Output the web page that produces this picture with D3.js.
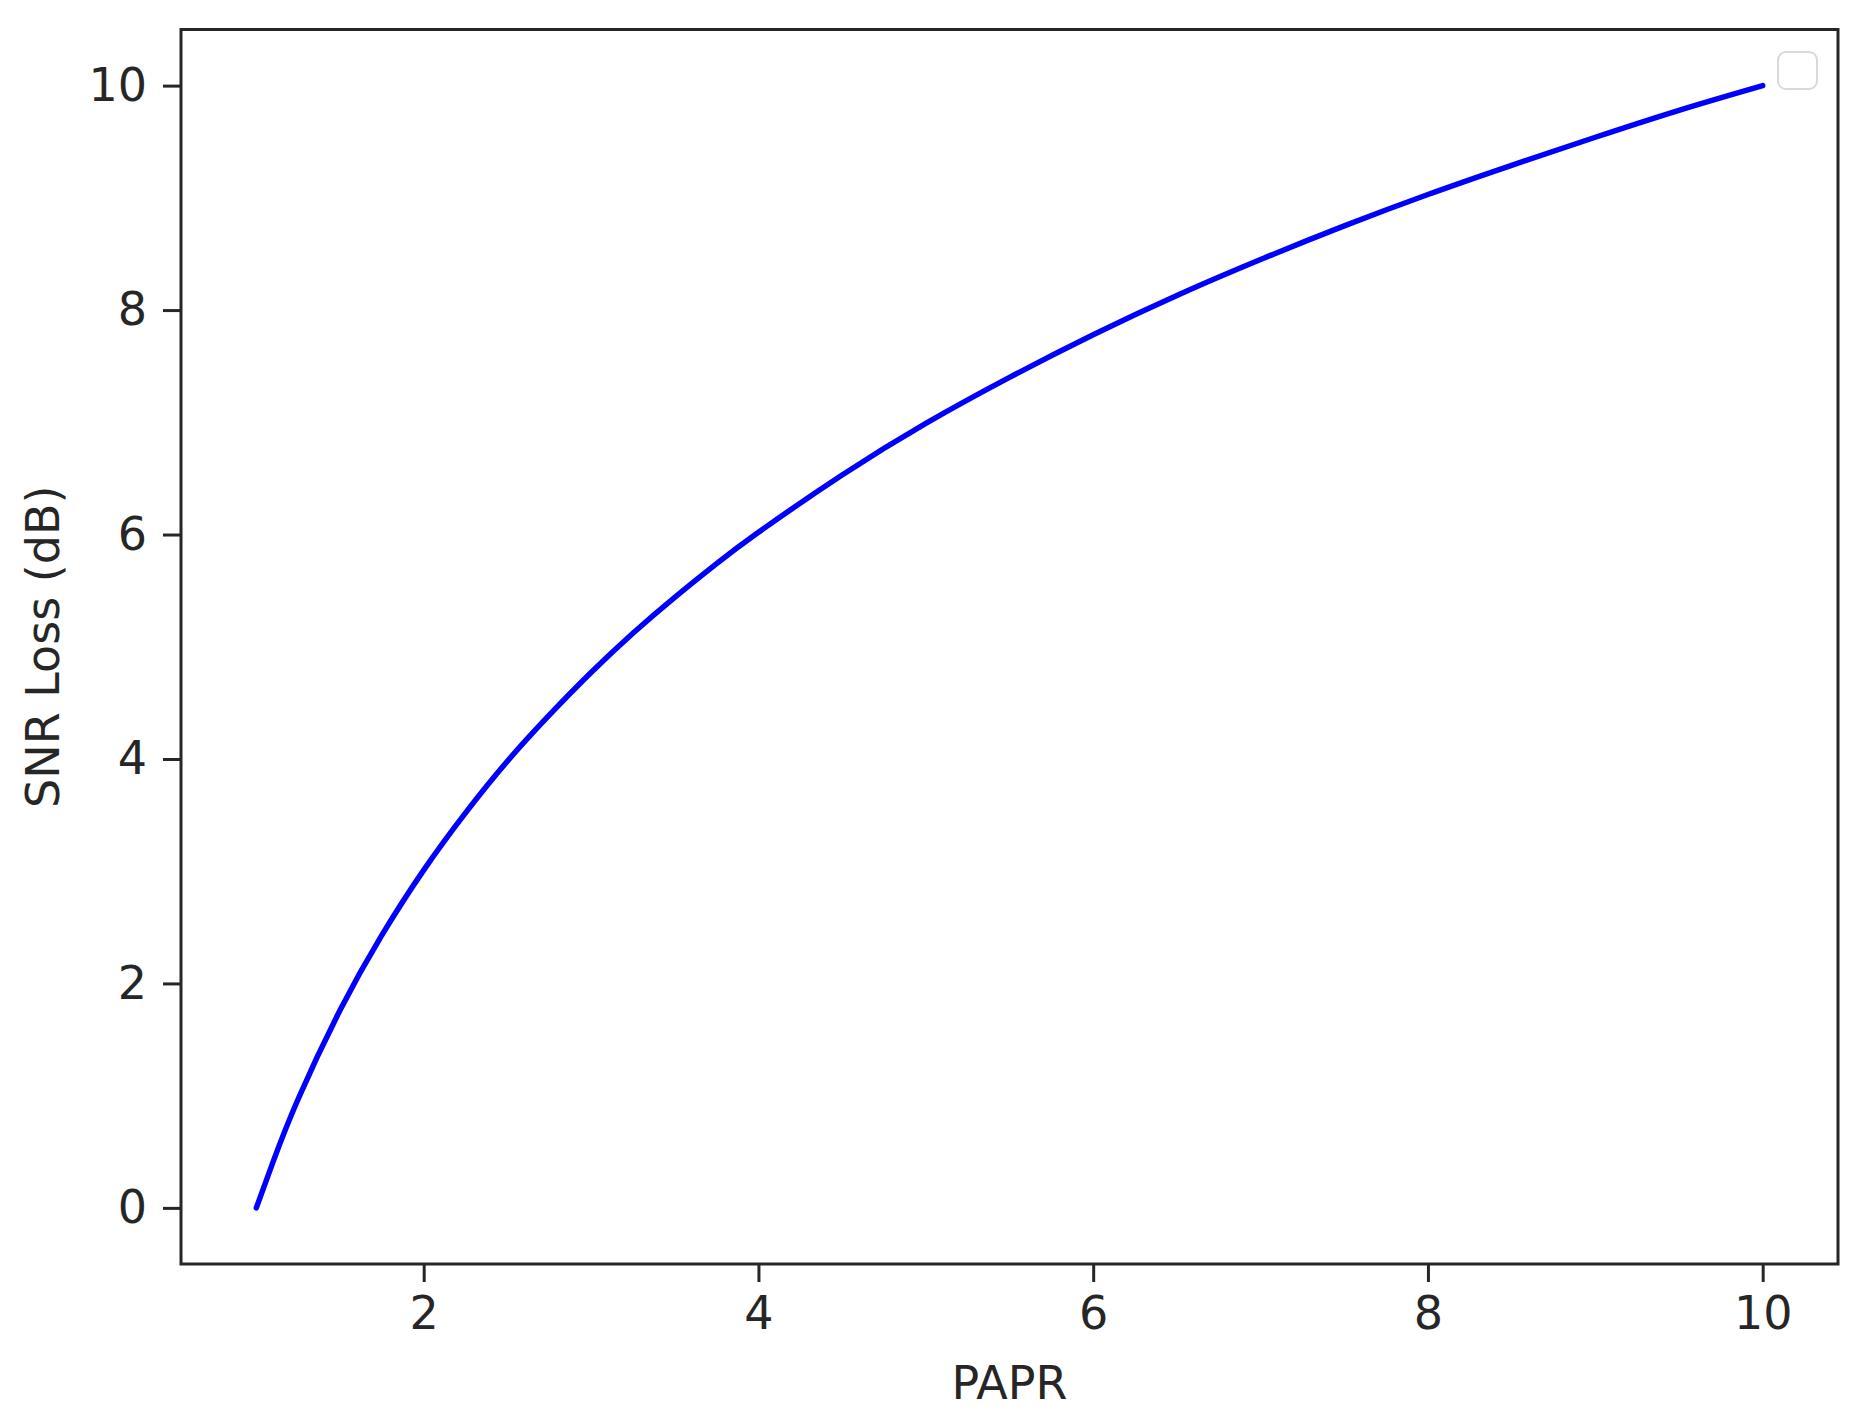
<!DOCTYPE html>
<html>
<head>
<meta charset="utf-8">
<script src="https://cdn.jsdelivr.net/npm/d3@7"></script>
<style>
  html, body { margin: 0; padding: 0; background: #fff; }
  svg { display: block; }
  text { font-family: "DejaVu Sans", sans-serif; fill: #262626; }
</style>
</head>
<body>
<script>
// Data
const paprValues = [1, 1.1, 1.25, 1.5, 1.75, 2, 2.25, 2.5, 2.75, 3, 3.25, 3.5, 3.75, 4, 4.5, 5, 5.5, 6, 6.5, 7, 7.5, 8, 8.5, 9, 9.5, 10];
const snrLossValues = [0, 0.41, 0.97, 1.76, 2.43, 3.01, 3.52, 3.98, 4.39, 4.77, 5.12, 5.44, 5.74, 6.02, 6.53, 6.99, 7.40, 7.78, 8.13, 8.45, 8.75, 9.03, 9.29, 9.54, 9.78, 10.0];
const xTicks = [2, 4, 6, 8, 10];
const yTicks = [0, 2, 4, 6, 8, 10];
const xLabel = "PAPR";
const yLabel = "SNR Loss (dB)";

(function () {
const W = 1866, H = 1421;
const mLeft = 181, mRight = 1838, mTop = 29.5, mBottom = 1264;

const svg = d3.select("body").append("svg").attr("width", W).attr("height", H);

const x = d3.scaleLinear().domain([0.55, 10.45]).range([mLeft, mRight]);
const y = d3.scaleLinear().domain([-0.5, 10.5]).range([mBottom, mTop]);

const fs = 46;

// Line
const data = paprValues.map((v, i) => [v, snrLossValues[i]]);
svg.append("path")
  .datum(data)
  .attr("fill", "none")
  .attr("stroke", "#0000ff")
  .attr("stroke-width", 5.5)
  .attr("stroke-linecap", "round")
  .attr("d", d3.line().x(d => x(d[0])).y(d => y(d[1])).curve(d3.curveNatural));

// Axes
const xAxis = svg.append("g")
  .attr("transform", `translate(0,${mBottom})`)
  .call(d3.axisBottom(x).tickValues(xTicks).tickSize(18).tickPadding(14).tickFormat(d3.format("d")));
const yAxis = svg.append("g")
  .attr("transform", `translate(${mLeft},0)`)
  .call(d3.axisLeft(y).tickValues(yTicks).tickSize(18).tickPadding(16).tickFormat(d3.format("d")));

[xAxis, yAxis].forEach(g => {
  g.select(".domain").remove();
  g.selectAll(".tick line").attr("stroke", "#262626").attr("stroke-width", 3);
  g.selectAll(".tick text").attr("font-size", fs).attr("font-family", "DejaVu Sans").attr("fill", "#262626");
});

// Frame
svg.append("rect")
  .attr("x", mLeft).attr("y", mTop)
  .attr("width", mRight - mLeft).attr("height", mBottom - mTop)
  .attr("fill", "none").attr("stroke", "#262626").attr("stroke-width", 3);

// Empty legend box
svg.append("rect")
  .attr("x", 1778).attr("y", 52)
  .attr("width", 39).attr("height", 37)
  .attr("rx", 8).attr("ry", 8)
  .attr("fill", "#fff").attr("stroke", "#d9d9d9").attr("stroke-width", 2);

// Axis labels
svg.append("text")
  .attr("x", (mLeft + mRight) / 2).attr("y", 1399)
  .attr("text-anchor", "middle").attr("font-size", fs)
  .text(xLabel);
svg.append("text")
  .attr("transform", `translate(59,${(mTop + mBottom) / 2}) rotate(-90)`)
  .attr("text-anchor", "middle").attr("font-size", fs)
  .text(yLabel);
})();
</script>
</body>
</html>
